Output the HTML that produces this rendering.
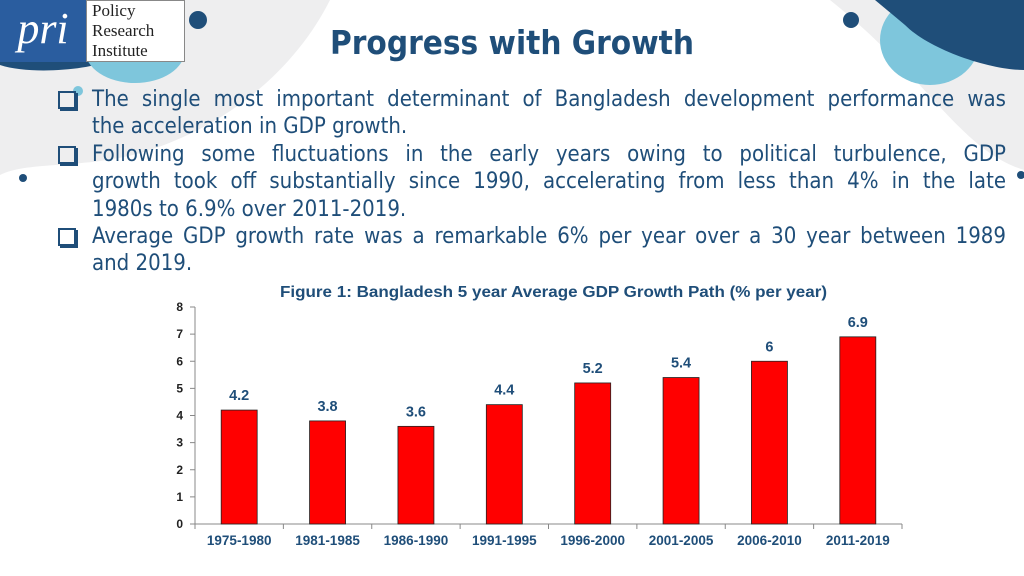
<!DOCTYPE html>
<html><head><meta charset="utf-8">
<style>
body{margin:0;width:1024px;height:576px;overflow:hidden;background:#fff;font-family:"Liberation Sans",sans-serif;position:relative}
.abs{position:absolute}
#title{left:0;width:1024px;top:23px;text-align:center;font-size:33px;font-weight:bold;color:#1f4e79;font-family:"DejaVu Sans Condensed","Liberation Sans",sans-serif;padding-left:0px;box-sizing:border-box}
.bul{position:absolute;left:92px;width:914px;font-size:22px;line-height:27.4px;color:#1f4e79;font-family:"DejaVu Sans Condensed","Liberation Sans",sans-serif;white-space:nowrap}
.bul span{display:block}
.bul span.j{text-align:justify;text-align-last:justify}
.box{position:absolute;left:58px;width:14px;height:14px;border:2px solid #1f4e79;box-shadow:2px 2px 0 #1f4e79}
</style></head><body>
<svg class="abs" style="left:0;top:0" width="1024" height="576">
<path d="M0,0 L330,0 C300,60 240,120 150,150 C90,170 30,160 0,175 Z" fill="#eeeeef"/>
<path d="M830,0 L1024,0 L1024,170 C960,150 930,80 830,0Z" fill="#eeeeef"/>
<path d="M0,0 L110,0 L110,60 C90,70 30,75 0,65Z" fill="#1f4e79"/>
<ellipse cx="135" cy="50" rx="50" ry="33" fill="#7ec6dc"/>
<ellipse cx="930" cy="40" rx="50" ry="45" fill="#7ec6dc"/>
<path d="M875,0 L1024,0 L1024,70 C990,70 930,50 905,25 Z" fill="#1f4e79"/>
<circle cx="198" cy="20" r="9" fill="#1f4e79"/>
<circle cx="851" cy="20" r="8" fill="#1f4e79"/>
<circle cx="23" cy="178" r="4" fill="#1f4e79"/>
<circle cx="1021" cy="175" r="4" fill="#1f4e79"/>
<circle cx="78" cy="91" r="5" fill="#7ec6dc"/>
</svg>
<div class="abs" style="left:0;top:0;width:86px;height:62px;background:#2a5d9f;color:#fff;font:italic 44px 'Liberation Serif',serif;line-height:58px;text-align:center">pri</div>
<div class="abs" style="left:86px;top:0;width:99px;height:62px;border:1px solid #888;background:#fff;font:17px 'Liberation Serif',serif;line-height:20px;padding-left:5px;box-sizing:border-box;color:#222">Policy<br>Research<br>Institute</div>
<div id="title" class="abs">Progress with Growth</div>
<div class="box" style="top:91px"></div>
<div class="bul" style="top:86px"><span class="j">The single most important determinant of Bangladesh development performance was</span><span>the acceleration in GDP growth.</span></div>
<div class="box" style="top:146px"></div>
<div class="bul" style="top:141px"><span class="j">Following some fluctuations in the early years owing to political turbulence, GDP</span><span class="j">growth took off substantially since 1990, accelerating from less than 4% in the late</span><span>1980s to 6.9% over 2011-2019.</span></div>
<div class="box" style="top:228px"></div>
<div class="bul" style="top:223px"><span class="j">Average GDP growth rate was a remarkable 6% per year over a 30 year between 1989</span><span>and 2019.</span></div>
<svg class="abs" style="left:0;top:0" width="1024" height="576" id="chart">
<text x="280" y="297" textLength="547" lengthAdjust="spacingAndGlyphs" font-size="15.5" font-weight="bold" fill="#1f4e79">Figure 1: Bangladesh 5 year Average GDP Growth Path (% per year)</text>
</svg>
<script>
const categories=["1975-1980","1981-1985","1986-1990","1991-1995","1996-2000","2001-2005","2006-2010","2011-2019"];
const values=[4.2,3.8,3.6,4.4,5.2,5.4,6,6.9];
const yTicks=[0,1,2,3,4,5,6,7,8];
const svg=document.getElementById('chart');const NS='http://www.w3.org/2000/svg';
const x0=195,x1=902,y0=524,yTop=307,yMax=8;
const y=v=>y0-(y0-yTop)*v/yMax;
const bw=(x1-x0)/categories.length;
const xc=i=>x0+bw*(i+0.5);
function mk(t,a){const e=document.createElementNS(NS,t);for(const k in a)e.setAttribute(k,a[k]);svg.appendChild(e);return e;}
let e=mk('line',{x1:x0,y1:yTop,x2:x0,y2:y0,stroke:'#888'});


e=mk('line',{x1:x0,y1:y0,x2:x1,y2:y0,stroke:'#888'});


yTicks.forEach(t=>{
 mk('line',{x1:x0-5,y1:y(t),x2:x0,y2:y(t),stroke:'#888'});
 const tx=mk('text',{x:x0-12,y:y(t)+4,'text-anchor':'end','font-size':12,'font-weight':'bold',fill:'#222'});tx.textContent=t;
 
 
});
for(let i=0;i<=categories.length;i++)mk('line',{x1:x0+bw*i,y1:y0,x2:x0+bw*i,y2:y0+5,stroke:'#888'});
categories.forEach((c,i)=>{
 const b=mk('rect',{x:xc(i)-18,y:y(values[i]),width:36,height:y0-y(values[i]),fill:'#ff0000',stroke:'#222','stroke-width':0.8});
 
 
 const l=mk('text',{x:xc(i),y:y(values[i])-10,'text-anchor':'middle','font-size':14.5,'font-weight':'bold',fill:'#1f4e79'});l.textContent=values[i];
 
 
 const xt=mk('text',{x:xc(i),y:545,'text-anchor':'middle','font-size':13.5,'font-weight':'bold',fill:'#1f4e79'});xt.textContent=c;
 
 
});
</script>
</body></html>
